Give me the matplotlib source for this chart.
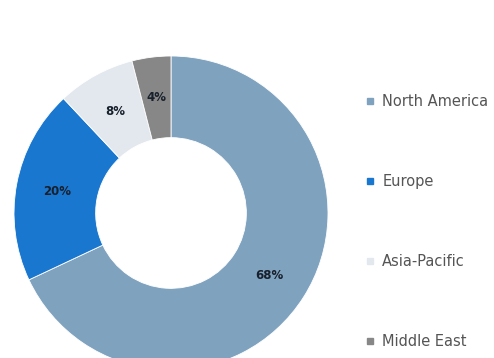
import matplotlib
matplotlib.use("Agg")
import matplotlib.pyplot as plt
from matplotlib.lines import Line2D

regions = ["North America", "Europe", "Asia-Pacific", "Middle East"]
shares = [68, 20, 8, 4]
colors = ["#7fa2bf", "#1a77cf", "#e3e8ee", "#878787"]

W, H = 494, 358
cx, cy, r = 171, 145, 157  # donut centre (px from left / bottom) and radius

fig = plt.figure(figsize=(W / 100, H / 100), dpi=100)
ax = fig.add_axes([0, 0, 1, 1])
ax.set_aspect("equal")
ax.axis("off")

ax.pie(
    shares, colors=colors, startangle=90, counterclock=False,
    radius=1.0, wedgeprops=dict(width=0.52, edgecolor="white", linewidth=0.6),
    autopct=lambda p: f"{p:.0f}%", pctdistance=0.74,
    textprops=dict(fontsize=8.5, fontweight="bold", color="#18202c"),
)
ax.set_xlim(-cx / r, (W - cx) / r)
ax.set_ylim(-cy / r, (H - cy) / r)

handles = [Line2D([], [], marker="s", linestyle="none", markersize=5,
                  markerfacecolor=c, markeredgecolor=c) for c in colors]
fig.legend(handles, regions, loc="upper left", bbox_to_anchor=(0.74, 0.737),
           frameon=False, fontsize=10.5, labelcolor="#555555",
           labelspacing=4.45, handlelength=0.6, handletextpad=0.55,
           borderpad=0, borderaxespad=0)

fig.savefig("out.png", dpi=100)
